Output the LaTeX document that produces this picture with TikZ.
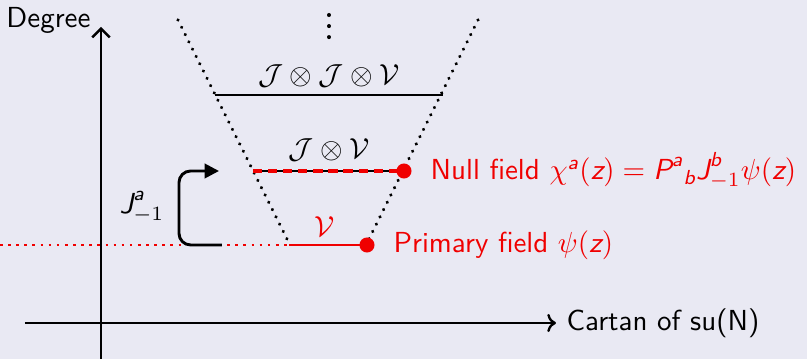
\documentclass[tikz,border=0pt]{standalone}
\usepackage{amsmath,amssymb}
\usetikzlibrary{arrows.meta}
\definecolor{bg}{RGB}{233,233,243}
\definecolor{myred}{RGB}{240,0,0}
\newcommand{\sfi}[1]{\text{\sffamily\itshape #1}}
\begin{document}
\begin{tikzpicture}[x=0.345pt,y=-0.345pt,font=\sffamily,
  axis/.style={line width=0.8pt},
  lvl/.style={line width=1.0pt},
  dotline/.style={line width=1.2pt,dash pattern=on 0.01pt off 2.8pt,line cap=round},
  reddot/.style={circle,fill=myred,inner sep=0pt,minimum size=5.2pt},
  redtxt/.style={text=myred,anchor=west,inner sep=0pt}]
\fill[bg] (0,0) rectangle (807,359);
\useasboundingbox (0,0) rectangle (807,359);
% axes
\coordinate (yb) at (101,359);
\coordinate (yt) at (101,27);
\coordinate (xl) at (25,323);
\coordinate (xr) at (556,323);
\draw[axis,-{Straight Barb[length=3pt]}] (yb) -- (yt);
\draw[axis,-{To[length=3pt]}] (xl) -- (xr);
\node[anchor=east,inner sep=0pt] (deg) at (91,20) {Degree};
\node[anchor=west,inner sep=0pt] (cart) at (566,323) {Cartan of su(N)};
% cone
\coordinate (l1) at (178,20);
\coordinate (l2) at (290,245);
\coordinate (r1) at (478,20);
\coordinate (r2) at (366,245);
\draw[dotline] (l1) -- (l2);
\draw[dotline] (r1) -- (r2);
\coordinate (v1) at (329,15);
\coordinate (v2) at (329,40);
\draw[dotline,line width=1.4pt,dash pattern=on 0.01pt off 3.8pt] (v1) -- (v2);
% levels
\coordinate (a1) at (215,95);
\coordinate (a2) at (443,95);
\draw[lvl] (a1) -- (a2);
\node (la) at (329,76) {$\mathcal{J}\otimes\mathcal{J}\otimes\mathcal{V}$};
\coordinate (b1) at (253,171);
\coordinate (b2) at (404,171);
\draw[lvl] (b1) -- (b2);
\draw[myred,line width=1.1pt,dash pattern=on 3.2pt off 2pt] (b1) -- (b2);
\node (lb) at (329,150) {$\mathcal{J}\otimes\mathcal{V}$};
\node[reddot] (nd) at (b2) {};
\coordinate (c1) at (289,245);
\coordinate (c2) at (367,245);
\coordinate (c0) at (0,245);
\draw[myred,line width=0.8pt] (c1) -- (c2);
\draw[myred,line width=0.8pt,dash pattern=on 0.9pt off 1.9pt] (c0) -- (c1);
\node[text=myred] (lc) at (325,227) {$\mathcal{V}$};
\node[reddot] (pd) at (c2) {};
% J arrow
\coordinate (j1) at (222,245);
\coordinate (j2) at (179,245);
\coordinate (j3) at (179,171);
\coordinate (j4) at (219,171);
\draw[lvl,rounded corners=4pt,-{Triangle[length=5pt,width=5pt]}] (j1) -- (j2) -- (j3) -- (j4);
\node (jl) at (142,207) {$\sfi{J}^{\sfi{a}}_{-1}$};
% labels
\node[redtxt] (nf) at (430,171) {Null field $\chi^{\sfi{a}}(\sfi{z})=\sfi{P}^{\sfi{a}}{}_{\sfi{b}}\sfi{J}^{\sfi{b}}_{-1}\psi(\sfi{z})$};
\node[redtxt] (pf) at (393,245) {Primary field $\psi(\sfi{z})$};
\end{tikzpicture}
\end{document}
